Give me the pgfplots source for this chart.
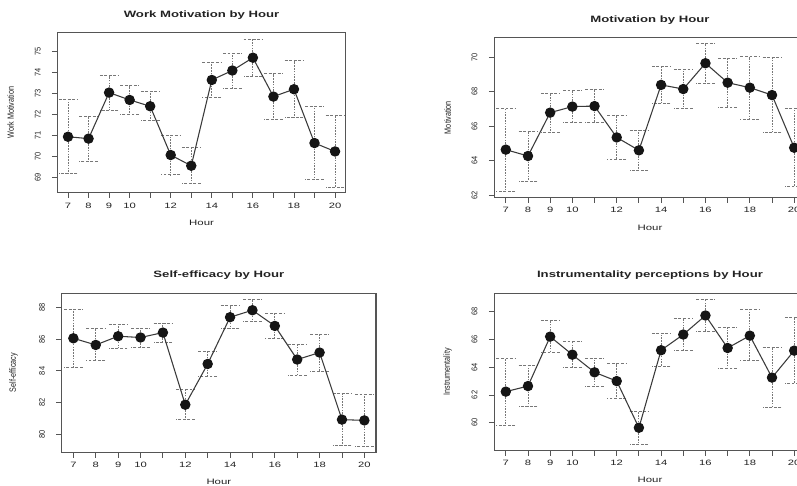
\documentclass[border=0pt]{standalone}
\usepackage{pgfplots}
\pgfplotsset{compat=1.18}
\usepackage{pgfplotstable}
\usepackage{fontspec}
\setmainfont{Liberation Sans}

\definecolor{framecol}{HTML}{555555}
\definecolor{linecol}{HTML}{3A3A3A}
\definecolor{ptcol}{HTML}{151515}
\definecolor{errcol}{HTML}{777777}
\definecolor{txtcol}{HTML}{222222}

\pgfplotstableread{
h m up lo
7 70.95 72.73 69.21
8 70.86 71.90 69.78
9 73.05 73.86 72.22
10 72.70 73.38 72.02
11 72.40 73.11 71.71
12 70.08 71.00 69.14
13 69.57 70.43 68.71
14 73.65 74.49 72.83
15 74.10 74.92 73.27
16 74.71 75.60 73.84
17 72.86 73.94 71.79
18 73.21 74.57 71.87
19 70.65 72.37 68.94
20 70.25 71.97 68.56
}\workmot

\pgfplotstableread{
h m up lo
7 64.64 67.06 62.21
8 64.27 65.70 62.81
9 66.79 67.91 65.64
10 67.14 68.09 66.22
11 67.17 68.12 66.22
12 65.35 66.63 64.09
13 64.60 65.78 63.43
14 68.40 69.48 67.31
15 68.16 69.29 67.04
16 69.66 70.80 68.51
17 68.53 69.93 67.12
18 68.24 70.04 66.42
19 67.81 69.97 65.66
20 64.75 67.02 62.48
}\mot

\pgfplotstableread{
h m up lo
7 86.06 87.89 84.25
8 85.64 86.67 84.67
9 86.19 86.95 85.43
10 86.11 86.69 85.49
11 86.42 87.03 85.81
12 81.87 82.84 80.93
13 84.44 85.26 83.66
14 87.39 88.11 86.67
15 87.83 88.53 87.14
16 86.84 87.64 86.04
17 84.72 85.68 83.73
18 85.16 86.32 84.00
19 80.93 82.57 79.31
20 80.88 82.53 79.24
}\selfeff

\pgfplotstableread{
h m up lo
7 62.24 64.62 59.83
8 62.64 64.13 61.18
9 66.20 67.36 65.05
10 64.90 65.87 63.99
11 63.63 64.62 62.62
12 63.00 64.25 61.75
13 59.64 60.84 58.44
14 65.22 66.42 64.04
15 66.35 67.50 65.19
16 67.72 68.89 66.54
17 65.38 66.83 63.92
18 66.27 68.17 64.47
19 63.25 65.43 61.11
20 65.19 67.57 62.81
}\instr

\pgfplotsset{
  panel/.style={
    scale only axis,
    anchor=south west,
    xmin=6.48, xmax=20.52,
    axis line style={framecol, line width=0.8pt},
    tick style={framecol, line width=0.7pt},
    tick align=outside,
    xtick pos=bottom, ytick pos=left,
    major tick length=4pt,
    xtick={7,...,20},
    xticklabels={7,8,9,10,,12,,14,,16,,18,,20},
    xticklabel style={font=\fontsize{5.8}{6}\selectfont, text=txtcol, xscale=1.45},
    yticklabel shift=5pt,
    yticklabel style={font=\fontsize{6.2}{7}\selectfont, text=txtcol, rotate=90, anchor=south, xscale=0.9},
    every axis title shift=0pt,
    title style={at={(axis description cs:0.5,1)}, anchor=center, yshift=13.5pt, font=\fontsize{6.9}{7}\selectfont\bfseries, text=txtcol, xscale=1.43},
    xlabel={Hour},
    xlabel style={at={(axis description cs:0.5,0)}, anchor=center, yshift=-22.5pt, font=\fontsize{5.9}{6}\selectfont, text=txtcol, xscale=1.45},
    ylabel style={anchor=center, font=\fontsize{6.8}{7}\selectfont, text=txtcol, xscale=0.8},
    clip=false,
  },
  errs/.style={
    forget plot, only marks, mark=none,
    error bars/.cd, y dir=both, y explicit,
    error bar style={errcol, line width=0.65pt, dash pattern=on 1.2pt off 0.9pt},
    error mark options={rotate=90, mark size=7pt, errcol, line width=0.6pt, dash pattern=on 2.2pt off 1.2pt},
  },
  curve/.style={linecol, line width=0.8pt, mark=*, mark size=3.5pt, mark options={ptcol, fill=ptcol, solid}},
}

\begin{document}
\begin{tikzpicture}
\useasboundingbox (0,0) rectangle (597.75pt,364.5pt);
\clip (0,0) rectangle (597.75pt,364.5pt);

% Panel 1
\begin{axis}[panel, at={(43pt,220pt)}, width=216.3pt, height=120pt,
  ymin=68.29, ymax=75.9, ytick={69,...,75}, yticklabels={69,70,71,72,73,74,75},
  title={Work Motivation by Hour}, ylabel={Work Motivation},
  ylabel style={at={(axis description cs:-0.162,0.5)}}]
\addplot[errs] table[x=h, y=m, y error plus expr=\thisrow{up}-\thisrow{m}, y error minus expr=\thisrow{m}-\thisrow{lo}] {\workmot};
\addplot[curve] table[x=h, y=m] {\workmot};
\end{axis}

% Panel 2
\begin{axis}[panel, at={(370.7pt,216.5pt)}, width=233.6pt, height=119.7pt,
  ymin=61.87, ymax=71.14, ytick={62,64,...,70}, yticklabels={62,64,66,68,70},
  title={Motivation by Hour}, ylabel={Motivation},
  ylabel style={at={(axis description cs:-0.15,0.5)}}]
\addplot[errs] table[x=h, y=m, y error plus expr=\thisrow{up}-\thisrow{m}, y error minus expr=\thisrow{m}-\thisrow{lo}] {\mot};
\addplot[curve] table[x=h, y=m] {\mot};
\end{axis}

% Panel 3
\begin{axis}[panel, at={(46.3pt,25.3pt)}, width=235.7pt, height=119.25pt,
  ymin=78.87, ymax=88.9, ytick={80,82,...,88}, yticklabels={80,82,84,86,88},
  title={Self-efficacy by Hour}, ylabel={Self-efficacy},
  ylabel style={at={(axis description cs:-0.153,0.5)}}]
\addplot[errs] table[x=h, y=m, y error plus expr=\thisrow{up}-\thisrow{m}, y error minus expr=\thisrow{m}-\thisrow{lo}] {\selfeff};
\addplot[curve] table[x=h, y=m] {\selfeff};
\end{axis}

% Panel 4
\begin{axis}[panel, at={(370.7pt,26.8pt)}, width=233.6pt, height=117.75pt,
  ymin=58.02, ymax=69.32, ytick={60,62,...,68}, yticklabels={60,62,64,66,68},
  title={Instrumentality perceptions by Hour}, ylabel={Instrumentality},
  ylabel style={at={(axis description cs:-0.15,0.5)}}]
\addplot[errs] table[x=h, y=m, y error plus expr=\thisrow{up}-\thisrow{m}, y error minus expr=\thisrow{m}-\thisrow{lo}] {\instr};
\addplot[curve] table[x=h, y=m] {\instr};
\end{axis}
\end{tikzpicture}
\end{document}
